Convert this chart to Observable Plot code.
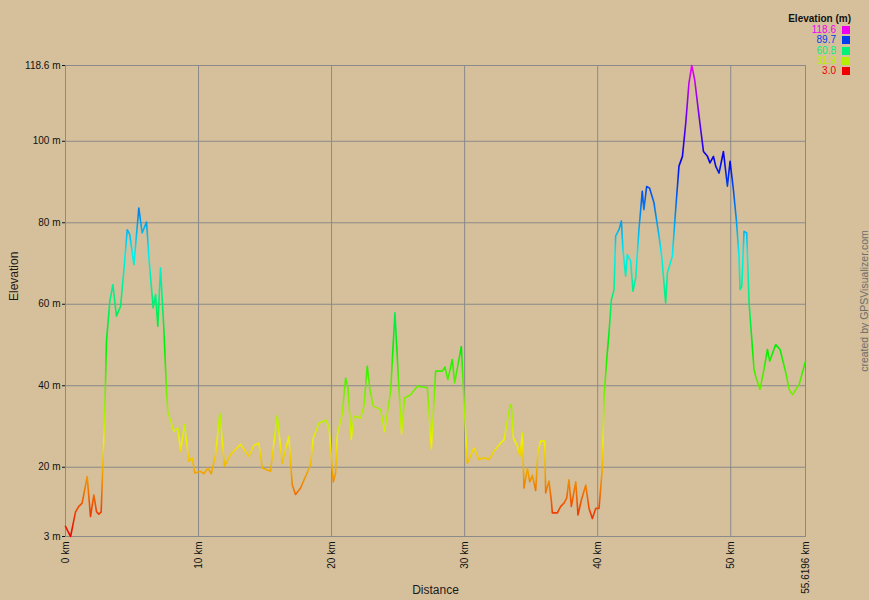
<!DOCTYPE html>
<html><head><meta charset="utf-8">
<script src="https://cdn.jsdelivr.net/npm/d3@7"></script>
<script src="https://cdn.jsdelivr.net/npm/@observablehq/plot@0.6"></script>
<style>
html,body{margin:0;padding:0;background:#D5C09B;}
#wrap{position:relative;width:869px;height:600px;overflow:hidden;font-family:"Liberation Sans",Arial,sans-serif;}
#wrap svg{position:absolute;left:0;top:0;}
.lg-title{position:absolute;left:760px;width:91px;top:13px;text-align:right;font-weight:bold;font-size:10px;color:#111;}
.lg-val{position:absolute;left:790px;width:46px;text-align:right;font-size:10px;line-height:10px;}
.lg-sw{position:absolute;left:842px;width:8px;height:8px;}
.caption{position:absolute;left:864px;top:301px;transform:translate(-50%,-50%) rotate(-90deg);white-space:nowrap;font-size:10.5px;color:#6e6e6e;}
</style></head><body><div id="wrap"></div>
<script>
const distanceKm = [0.00,0.38,0.75,1.00,1.25,1.63,1.88,2.13,2.33,2.50,2.68,2.80,2.96,3.08,3.33,3.56,3.83,4.14,4.38,4.64,4.83,5.14,5.51,5.76,6.09,6.27,6.59,6.77,6.94,7.14,7.39,7.59,7.69,8.14,8.44,8.65,8.95,9.27,9.52,9.72,10.15,10.40,10.70,10.95,11.28,11.60,11.95,12.40,13.16,13.78,14.16,14.53,14.79,15.41,15.91,16.29,16.79,17.04,17.29,17.67,18.42,18.62,19.05,19.55,19.80,20.13,20.30,20.43,20.80,21.05,21.23,21.48,21.68,22.18,22.43,22.68,22.88,23.13,23.68,23.98,24.44,24.76,25.06,25.26,25.49,25.94,26.44,27.20,27.50,27.82,28.32,28.52,28.74,29.07,29.25,29.75,30.02,30.20,30.70,31.08,31.45,31.83,32.20,32.70,32.96,33.21,33.41,33.51,33.66,33.96,34.16,34.34,34.46,34.72,34.89,35.09,35.34,35.51,35.71,36.01,36.09,36.34,36.52,36.59,36.97,37.22,37.47,37.67,37.84,38.02,38.35,38.52,38.77,39.10,39.35,39.60,39.85,40.10,40.35,40.48,40.68,40.85,41.03,41.23,41.35,41.60,41.78,41.90,42.10,42.23,42.48,42.65,42.86,43.10,43.35,43.47,43.68,43.90,44.23,44.61,44.81,45.11,45.24,45.61,45.86,46.11,46.37,46.62,46.86,47.07,47.29,47.62,47.95,48.25,48.44,48.70,48.87,49.12,49.45,49.75,49.95,50.20,50.43,50.62,50.70,50.83,51.00,51.20,51.38,51.75,51.88,52.20,52.50,52.76,52.93,53.38,53.71,54.14,54.39,54.64,55.14,55.52,55.6196];
const elevationM = [5.5,3.0,9.0,10.4,11.2,17.7,7.9,13.2,9.1,8.5,9.0,20.0,34.6,50.9,60.7,64.8,57.1,59.5,68.0,78.3,77.1,69.7,83.6,77.5,80.2,71.4,59.1,62.4,54.6,68.9,54.2,38.7,33.7,28.8,29.6,23.9,30.5,21.5,22.3,18.6,19.0,18.4,19.8,18.4,23.1,33.3,20.2,23.1,25.6,22.7,25.4,25.9,19.8,19.0,32.7,21.0,27.6,15.7,13.3,14.9,20.6,27.1,30.8,31.6,29.9,16.4,18.6,28.0,33.0,41.9,39.5,26.8,32.5,32.1,35.0,44.8,39.1,35.0,34.2,28.8,38.7,57.9,39.5,28.2,37.0,37.8,39.9,39.5,24.4,43.6,43.6,44.6,41.5,46.4,40.7,49.6,32.1,21.0,24.7,21.9,22.3,21.9,23.9,25.9,26.7,31.3,35.0,35.4,27.2,25.2,22.7,28.4,14.9,19.8,16.4,18.0,14.3,23.9,26.4,26.4,13.7,16.6,11.7,8.8,8.8,10.4,11.2,12.4,16.9,10.4,16.4,8.3,11.9,15.6,9.9,7.4,9.9,9.9,19.8,37.4,46.4,53.0,61.1,63.6,76.7,78.3,80.4,73.4,66.9,72.2,70.6,63.2,66.5,78.3,87.7,83.2,88.9,88.5,84.9,76.7,71.8,60.3,67.7,71.8,83.2,93.9,96.3,104.5,114.3,118.6,115.1,106.1,97.5,96.3,94.7,96.3,93.9,92.2,97.5,89.0,95.1,88.1,80.4,71.8,63.6,64.4,77.9,77.5,60.3,44.0,42.3,39.1,44.0,48.9,46.0,50.1,48.9,43.2,39.1,37.8,40.3,44.8,46.0];
const xTicks = [0,10,20,30,40,50,55.6196];
const xTickLabels = ["0 km","10 km","20 km","30 km","40 km","50 km","55.6196 km"];
const yTicks = [3,20,40,60,80,100,118.6];
const yTickLabels = ["3 m","20 m","40 m","60 m","80 m","100 m","118.6 m"];
const xGrid = [10,20,30,40,50];
const yGrid = [20,40,60,80,100];
const legendValues = [118.6,89.7,60.8,31.9,3.0];
const legendLabels = ["118.6","89.7","60.8","31.9","3.0"];

const data = distanceKm.map((d,i)=>({km:d, m:elevationM[i]}));
const color = Plot.scale({color:{type:"linear", domain:[3,118.6], range:["hsl(0,100%,47%)","hsl(300,100%,47%)"], interpolate:d3.interpolateHslLong}});
const gridColor = "#8a8a8a";

const chart = Plot.plot({
  width:869, height:600,
  marginLeft:65, marginRight:64, marginTop:65, marginBottom:64,
  style:{background:"transparent", color:"#111", fontFamily:"'Liberation Sans',Arial,sans-serif", fontSize:"10px"},
  x:{domain:[0,55.6196], ticks:xTicks, tickFormat:d=>xTickLabels[xTicks.indexOf(d)], tickSize:0, tickPadding:5, tickRotate:-90, label:null},
  y:{domain:[3,118.6], ticks:yTicks, tickFormat:d=>yTickLabels[yTicks.indexOf(d)], tickSize:3, tickPadding:2, label:null},
  marks:[
    Plot.ruleX(xGrid,{stroke:gridColor, strokeWidth:1}),
    Plot.ruleY(yGrid,{stroke:gridColor, strokeWidth:1}),
    Plot.frame({stroke:gridColor, strokeWidth:1}),
    Plot.line(data,{x:"km", y:"m", stroke:"url(#elevGrad)", strokeWidth:1.6}),
    Plot.text(["Elevation"],{text:d=>d, frameAnchor:"left", dx:-51, rotate:-90, fontSize:12, fill:"#1a1a1a"}),
    Plot.text(["Distance"],{text:d=>d, frameAnchor:"bottom", dy:57, fontSize:12, fill:"#1a1a1a"})
  ]
});

// gradient stroke following elevation, positioned with the y scale
const ys = chart.scale("y");
const NS = "http://www.w3.org/2000/svg";
const defs = document.createElementNS(NS,"defs");
const grad = document.createElementNS(NS,"linearGradient");
grad.setAttribute("id","elevGrad");
grad.setAttribute("gradientUnits","userSpaceOnUse");
grad.setAttribute("x1",0); grad.setAttribute("x2",0);
grad.setAttribute("y1",ys.apply(3)); grad.setAttribute("y2",ys.apply(118.6));
for (let k=0;k<=40;k++){
  const v = 3 + k*(118.6-3)/40;
  const s = document.createElementNS(NS,"stop");
  s.setAttribute("offset",k/40);
  s.setAttribute("stop-color",color.apply(v));
  grad.appendChild(s);
}
defs.appendChild(grad);
chart.insertBefore(defs, chart.firstChild);

const wrap = document.getElementById("wrap");
wrap.appendChild(chart);

// legend
const t = document.createElement("div");
t.className="lg-title"; t.textContent="Elevation (m)";
wrap.appendChild(t);
legendValues.forEach((v,i)=>{
  const top = 26 + i*10.3;
  const lab = document.createElement("div");
  lab.className="lg-val"; lab.textContent=legendLabels[i];
  lab.style.top=(top-1)+"px"; lab.style.color=color.apply(v);
  wrap.appendChild(lab);
  const sw = document.createElement("div");
  sw.className="lg-sw"; sw.style.top=top+"px"; sw.style.background=color.apply(v);
  wrap.appendChild(sw);
});
const cap = document.createElement("div");
cap.className="caption"; cap.textContent="created by GPSVisualizer.com";
wrap.appendChild(cap);
</script></body></html>
